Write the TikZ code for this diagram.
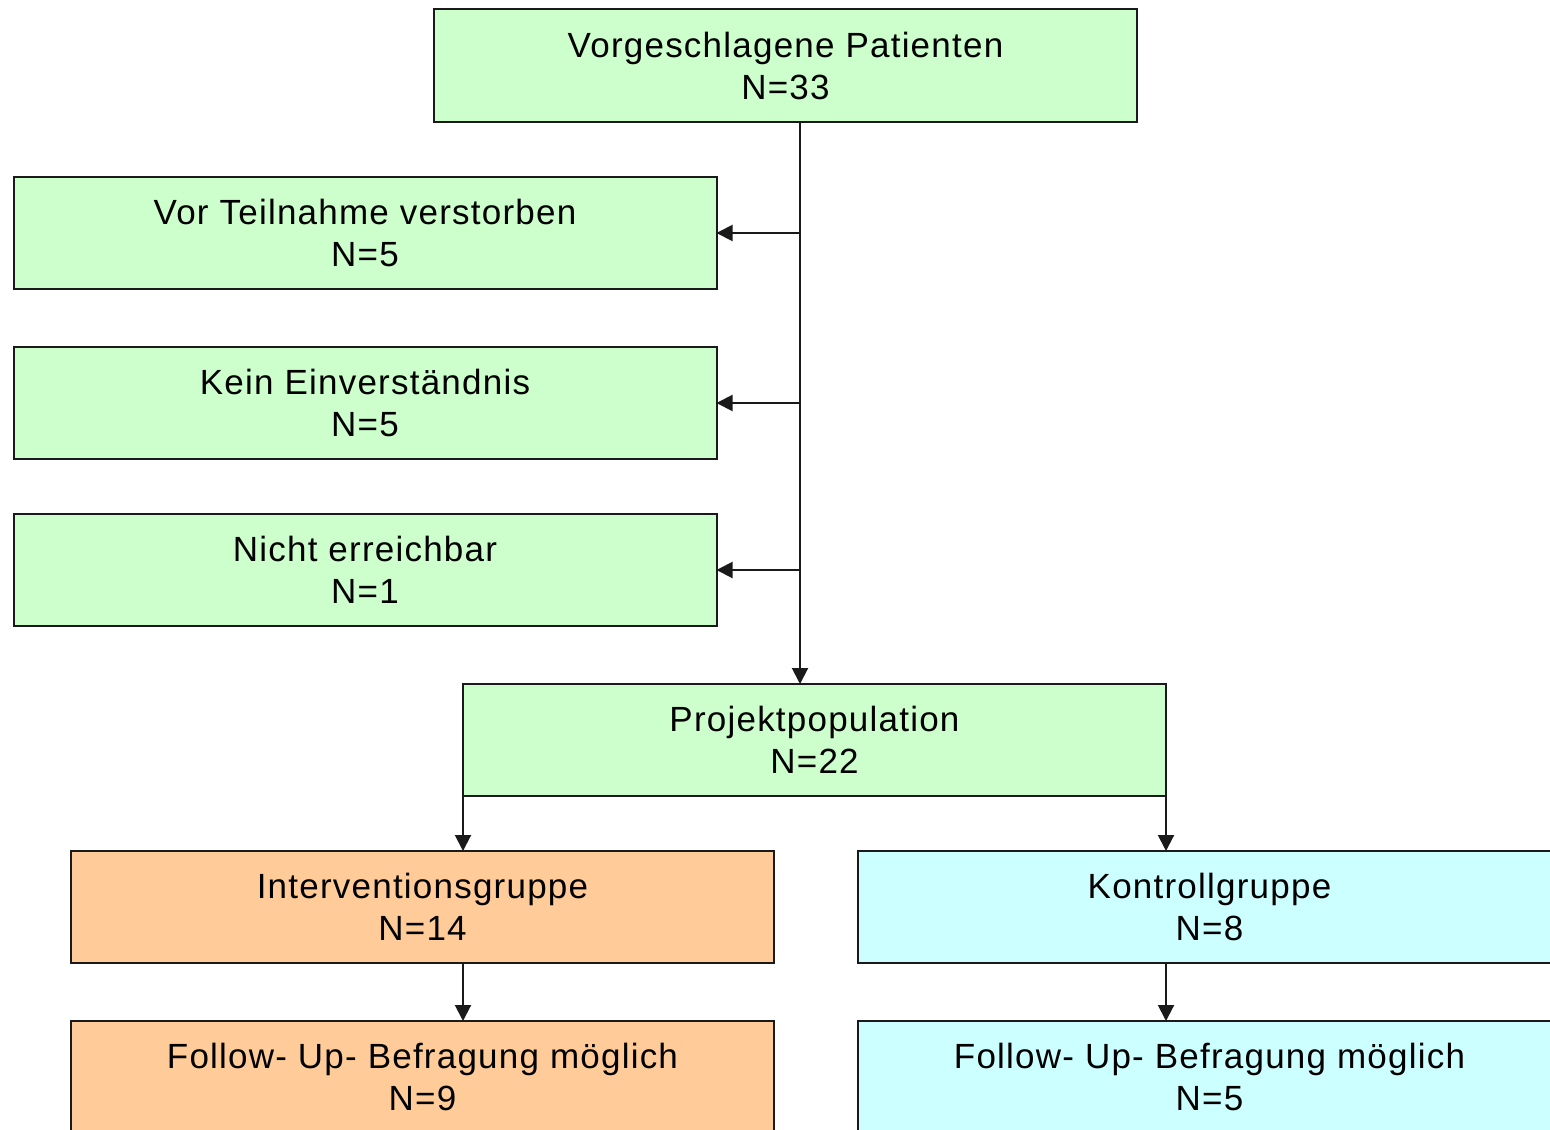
\documentclass[tikz,border=0pt]{standalone}
\usepackage{fontspec}
\setmainfont{Liberation Sans}[LetterSpace=3.5]
\usetikzlibrary{arrows.meta,calc}
\definecolor{boxgreen}{HTML}{CCFFCC}
\definecolor{boxorange}{HTML}{FFCC99}
\definecolor{boxcyan}{HTML}{CCFFFF}
\definecolor{edge}{HTML}{1A1A1A}
\tikzset{
  flowbox/.style={draw=edge, line width=1pt, minimum width=351.5pt, minimum height=56pt,
    inner sep=0pt, outer sep=0pt, align=center, font=\fontsize{17.5}{21}\selectfont},
  greenbox/.style={flowbox, fill=boxgreen},
  orangebox/.style={flowbox, fill=boxorange},
  cyanbox/.style={flowbox, fill=boxcyan},
  arr/.style={draw=edge, line width=1pt, -{Triangle[length=8pt,width=8pt]}},
  plainline/.style={draw=edge, line width=1pt}
}
\begin{document}
\begin{tikzpicture}[x=0.5pt,y=-0.5pt]
\useasboundingbox (0,0) rectangle (1550,1129);
\clip (0,0) rectangle (1550,1129);
\fill[white] (0,0) rectangle (1550,1129);
\node[greenbox] (top) at (785.5,65.5) {Vorgeschlagene Patienten\\N=33};
\node[greenbox] (vor) at (365,233) {Vor Teilnahme verstorben\\N=5};
\node[greenbox] (kein) at (365,403) {Kein Einverständnis\\N=5};
\node[greenbox] (nicht) at (365,570) {Nicht erreichbar\\N=1};
\node[greenbox] (proj) at (814.5,740) {Projektpopulation\\N=22};
\node[orangebox] (int) at (422.5,907) {Interventionsgruppe\\N=14};
\node[cyanbox] (kon) at (1209.5,907) {Kontrollgruppe\\N=8};
\node[orangebox] (fo1) at (422.5,1077) {Follow- Up- Befragung möglich\\N=9};
\node[cyanbox] (fo2) at (1209.5,1077) {Follow- Up- Befragung möglich\\N=5};
\coordinate (t) at (800,122);
\draw[arr] (t) -- (t |- proj.north);
\draw[arr] (t |- vor.east) -- (vor.east);
\draw[arr] (t |- kein.east) -- (kein.east);
\draw[arr] (t |- nicht.east) -- (nicht.east);
\coordinate (pl) at (proj.south west);
\coordinate (pr) at (proj.south east);
\draw[arr] (pl) -- (pl |- int.north);
\draw[arr] (pr) -- (pr |- kon.north);
\draw[arr] (pl |- int.south) -- (pl |- fo1.north);
\draw[arr] (pr |- kon.south) -- (pr |- fo2.north);
\end{tikzpicture}
\end{document}
